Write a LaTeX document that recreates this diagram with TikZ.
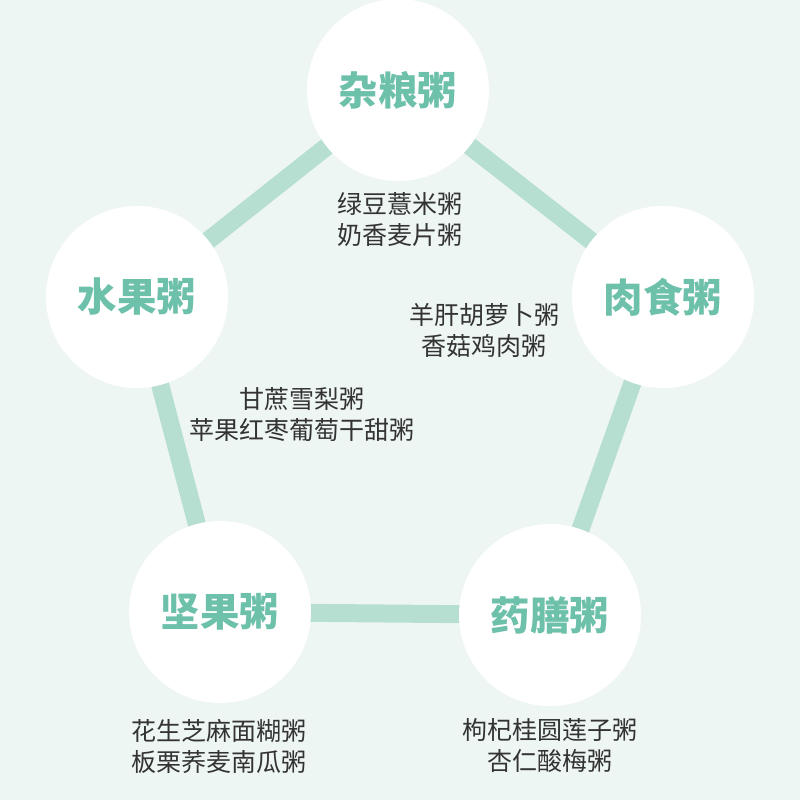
\documentclass[tikz,border=0pt]{standalone}
\usepackage{fontspec}
\newfontfamily\cjk{Noto Sans CJK SC}
\definecolor{bgc}{HTML}{EEF6F3}
\definecolor{linec}{HTML}{B6DFD1}
\definecolor{titlec}{HTML}{6DC0A9}
\definecolor{textc}{HTML}{333333}
\tikzset{
  pot/.style={circle, fill=white, minimum size=182pt, inner sep=0pt, text=titlec, font=\cjk\bfseries\fontsize{39.5}{41}\selectfont},
  link/.style={linec, line width=18pt},
  dish/.style={align=center, text=textc, font=\cjk\fontsize{25}{31}\selectfont, inner sep=0pt}
}
\begin{document}
\begin{tikzpicture}[x=1pt,y=-1pt]
\fill[bgc] (0,0) rectangle (800,800);
\useasboundingbox (0,0) rectangle (800,800);
\coordinate (ca) at (398,90);
\coordinate (cb) at (663,297);
\coordinate (cc) at (550,615);
\coordinate (cd) at (220,612);
\coordinate (ce) at (137,297);
\draw[link] (ca) -- (cb) -- (cc) -- (cd) -- (ce) -- cycle;
\node[pot] (za) at (ca) {杂粮粥};
\node[pot] (rs) at (cb) {肉食粥};
\node[pot] (ys) at (cc) {药膳粥};
\node[pot] (jg) at (cd) {坚果粥};
\node[pot] (sg) at (ce) {水果粥};
\node[dish] (t1) at (400,220) {绿豆薏米粥\\奶香麦片粥};
\node[dish] (t2) at (484,330) {羊肝胡萝卜粥\\香菇鸡肉粥};
\node[dish] (t3) at (302,415) {甘蔗雪梨粥\\苹果红枣葡萄干甜粥};
\node[dish] (t4) at (219,746) {花生芝麻面糊粥\\板栗荞麦南瓜粥};
\node[dish] (t5) at (550,746) {枸杞桂圆莲子粥\\杏仁酸梅粥};
\end{tikzpicture}
\end{document}
